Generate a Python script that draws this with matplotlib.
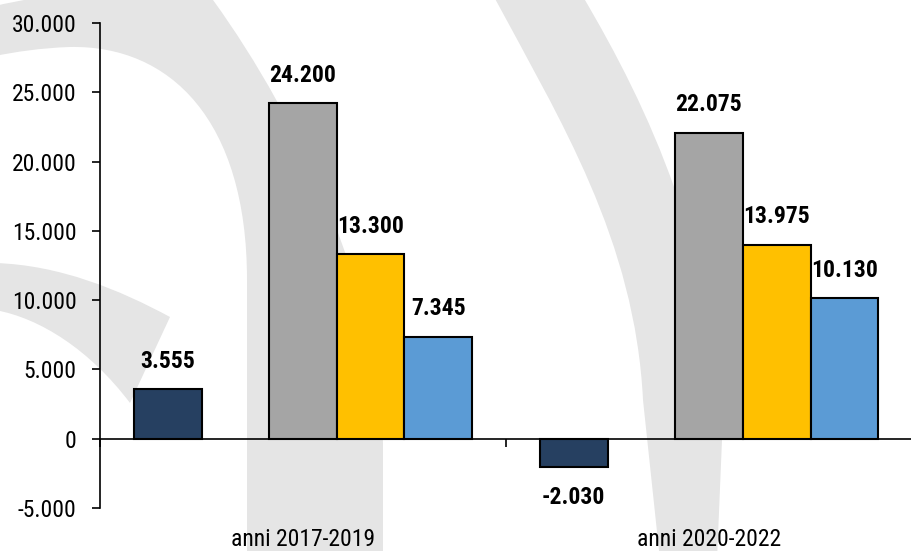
import matplotlib
matplotlib.use("Agg")
import matplotlib.pyplot as plt
from matplotlib.patches import PathPatch
from matplotlib.path import Path
from matplotlib.ticker import FuncFormatter

# data
categories = ["anni 2017-2019", "anni 2020-2022"]
serie_navy = [3555, -2030]
serie_grigio = [24200, 22075]
serie_oro = [13300, 13975]
serie_azzurro = [7345, 10130]
colori = ["#264061", "#A5A5A5", "#FFC000", "#5B9BD5"]
slot = [1, 3, 4, 5]  # posizione nella categoria (sesti), il 2 resta vuoto

plt.rcParams["font.family"] = ["Roboto Condensed", "Liberation Sans", "DejaVu Sans"]

fig = plt.figure(figsize=(9.12, 5.51), dpi=100)

# watermark sullo sfondo (coordinate in pixel)
bg = fig.add_axes([0, 0, 1, 1], zorder=-1)
bg.set_xlim(0, 912)
bg.set_ylim(551, 0)
bg.axis("off")
wm = "#E5E5E5"
M, L, C, Z = Path.MOVETO, Path.LINETO, Path.CURVE4, Path.CLOSEPOLY

arco1 = Path(
    [(-5, 6), (40, -5), (120, -15), (213, 0), (300, 120), (383, 300), (383, 450),
     (383, 560), (247, 560), (247, 280), (247, 120), (170, 45), (70, 47),
     (40, 48), (15, 52), (-5, 56), (-5, 6)],
    [M, C, C, C, C, C, C, L, L, L, C, C, C, C, C, C, Z])
arco2 = Path(
    [(-5, 263), (60, 265), (120, 290), (170, 317), (130, 403), (90, 350), (40, 318),
     (-5, 310), (-5, 263)],
    [M, C, C, C, L, C, C, C, Z])
arco3 = Path(
    [(493, -5), (560, 120), (635, 240), (643, 400), (660, 560), (717, 560), (722, 440),
     (715, 250), (650, 110), (582, -5), (493, -5)],
    [M, C, C, C, L, L, L, C, C, C, Z])
for p in (arco1, arco2, arco3):
    bg.add_patch(PathPatch(p, facecolor=wm, edgecolor="none"))

ax = fig.add_axes([100 / 912, 43 / 551, 812 / 912, 485 / 551])
ax.patch.set_alpha(0)

serie = [serie_navy, serie_grigio, serie_oro, serie_azzurro]
w = 1 / 6
for valori, col, s in zip(serie, colori, slot):
    xs = [i + s / 6 for i in range(len(categories))]
    bars = ax.bar(xs, valori, width=w, color=col, edgecolor="black", linewidth=1.5, zorder=3)
    for b, v in zip(bars, valori):
        testo = f"{v:,}".replace(",", ".")
        if v >= 0:
            ax.annotate(testo, (b.get_x() + w / 2, v), xytext=(0, 12), textcoords="offset points",
                        ha="center", va="bottom", fontsize=17, fontweight="bold")
        else:
            ax.annotate(testo, (b.get_x() + w / 2, v), xytext=(0, -14), textcoords="offset points",
                        ha="center", va="top", fontsize=17, fontweight="bold")

ax.set_xlim(0, len(categories))
ax.set_ylim(-5000, 30000)
ax.set_yticks(range(-5000, 30001, 5000))
ax.yaxis.set_major_formatter(FuncFormatter(lambda v, p: f"{int(v):,}".replace(",", ".")))
ax.tick_params(axis="y", length=6, width=1.2, pad=11, labelsize=17, direction="out")

ax.spines["top"].set_visible(False)
ax.spines["right"].set_visible(False)
ax.spines["left"].set_linewidth(1.2)
ax.spines["bottom"].set_position(("data", 0))
ax.spines["bottom"].set_linewidth(1.2)
ax.spines["bottom"].set_zorder(4)
ax.set_xticks(range(len(categories) + 1))
ax.set_xticklabels([])
ax.tick_params(axis="x", length=6, width=1.2, direction="out")

for i, c in enumerate(categories):
    ax.annotate(c, (i + 0.5, 0), xycoords=("data", "axes fraction"), xytext=(0, -14.5),
                textcoords="offset points", ha="center", va="top", fontsize=17)

fig.savefig("out.png", dpi=100)
